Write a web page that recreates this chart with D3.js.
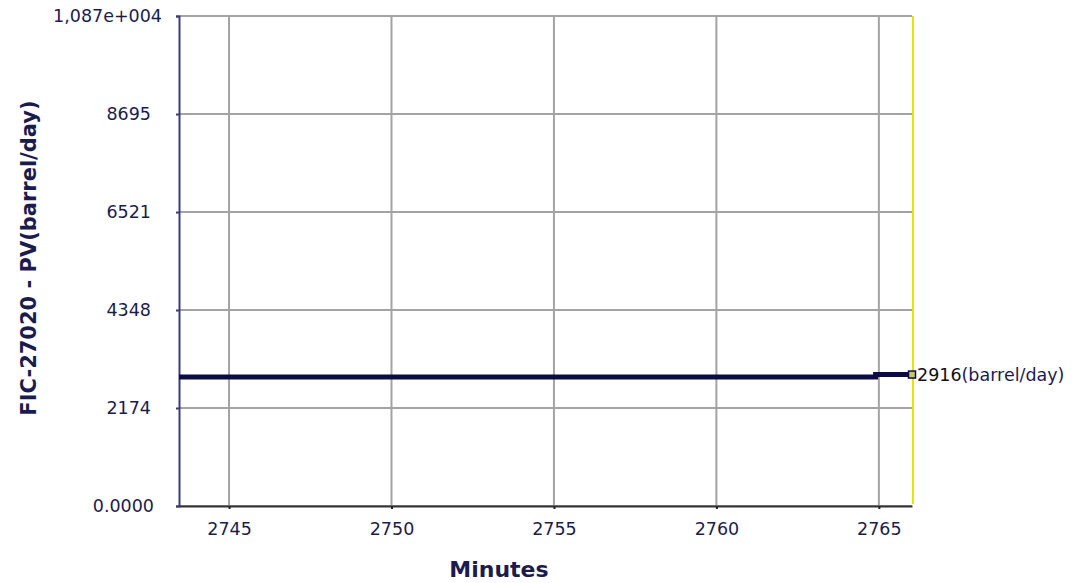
<!DOCTYPE html>
<html>
<head>
<meta charset="utf-8">
<script src="https://cdn.jsdelivr.net/npm/d3@7"></script>
<style>
  html, body { margin: 0; padding: 0; background: #fff; }
  svg { display: block; }
  text { font-family: "DejaVu Sans", Tahoma, sans-serif; }
</style>
</head>
<body>
<svg id="chart" width="1090" height="583"></svg>
<script>
// Trend of FIC-27020 process value
const minutes = [2743.46, 2764.9, 2766.02];
const flowValues = [2860, 2916, 2916];
const yTickValues = [0, 2174, 4348, 6521, 8695, 10870];
const yTickLabels = ["0.0000", "2174", "4348", "6521", "8695", "1,087e+004"];
const xTickValues = [2745, 2750, 2755, 2760, 2765];
const lastValueLabel = "2916";
const unitLabel = "(barrel/day)";

const svg = d3.select("#chart");
const margin = { left: 179, right: 178, top: 16, bottom: 77 };
const W = 1090, H = 583;

const x = d3.scaleLinear().domain([2743.46, 2766.02]).range([margin.left, W - margin.right]);
const y = d3.scaleLinear().domain([0, 10870]).range([H - margin.bottom, margin.top]);

const gridColor = "#a3a3a3";
const textColor = "#1c1c4c";
const tickFont = 17.5;

// grid
svg.append("g").selectAll("line").data(yTickValues).join("line")
  .attr("x1", x.range()[0]).attr("x2", x.range()[1])
  .attr("y1", d => y(d)).attr("y2", d => y(d))
  .attr("stroke", gridColor).attr("stroke-width", 2);
svg.append("g").selectAll("line").data(xTickValues).join("line")
  .attr("x1", d => x(d)).attr("x2", d => x(d))
  .attr("y1", y.range()[0]).attr("y2", y.range()[1])
  .attr("stroke", gridColor).attr("stroke-width", 2);

// cursor line at the right edge
svg.append("line")
  .attr("x1", x.range()[1] + 1).attr("x2", x.range()[1] + 1)
  .attr("y1", y.range()[1]).attr("y2", y.range()[0] - 2)
  .attr("stroke", "#e6e600").attr("stroke-width", 2);

// y axis (the scientific-notation top label sits a little further right)
const yAxis = d3.axisLeft(y).tickValues(yTickValues)
  .tickFormat((d, i) => yTickLabels[i]).tickSize(3).tickPadding(25);
const gy = svg.append("g").attr("transform", `translate(${margin.left},0)`).call(yAxis);
gy.select(".domain").attr("stroke", "#3b3b7d").attr("stroke-width", 2);
gy.selectAll(".tick line").attr("stroke", "#3b3b7d").attr("stroke-width", 2);
gy.selectAll(".tick text").attr("fill", textColor).attr("font-size", tickFont)
  .attr("dx", (d, i) => i === yTickValues.length - 1 ? 11 : (i === 0 ? 3 : 0));

// x axis
const xAxis = d3.axisBottom(x).tickValues(xTickValues).tickFormat(d3.format("d"))
  .tickSize(3).tickSizeOuter(0).tickPadding(14);
const gx = svg.append("g").attr("transform", `translate(0,${H - margin.bottom})`).call(xAxis);
gx.select(".domain").attr("stroke", "#333").attr("stroke-width", 2);
gx.selectAll(".tick line").attr("stroke", "#222").attr("stroke-width", 2);
gx.selectAll(".tick text").attr("fill", textColor).attr("font-size", tickFont);

// series
const pts = minutes.map((m, i) => [m, flowValues[i]]);
const line = d3.line().x(d => x(d[0])).y(d => y(d[1])).curve(d3.curveStepAfter);
svg.append("path").datum(pts).attr("d", line)
  .attr("fill", "none").attr("stroke", "#0c0c45").attr("stroke-width", 5);

// end marker
const last = pts[pts.length - 1];
svg.append("rect")
  .attr("x", x(last[0]) - 3.5).attr("y", y(last[1]) - 3.5)
  .attr("width", 7).attr("height", 7)
  .attr("fill", "#c8c860").attr("stroke", "#0c0c45").attr("stroke-width", 1.5);

const lbl = svg.append("text")
  .attr("x", x(last[0]) + 5).attr("y", y(last[1]) + 6)
  .attr("font-size", tickFont).attr("fill", textColor);
lbl.append("tspan").text(lastValueLabel).attr("fill", "#111");
lbl.append("tspan").text(unitLabel);

// axis titles
svg.append("text")
  .attr("x", 499).attr("y", 577)
  .attr("text-anchor", "middle").attr("font-size", 22).attr("font-weight", "bold")
  .attr("fill", textColor).text("Minutes");
svg.append("text")
  .attr("transform", "translate(36,258) rotate(-90)")
  .attr("text-anchor", "middle").attr("font-size", 21).attr("font-weight", "bold")
  .attr("fill", textColor).text("FIC-27020 - PV(barrel/day)");
</script>
</body>
</html>
